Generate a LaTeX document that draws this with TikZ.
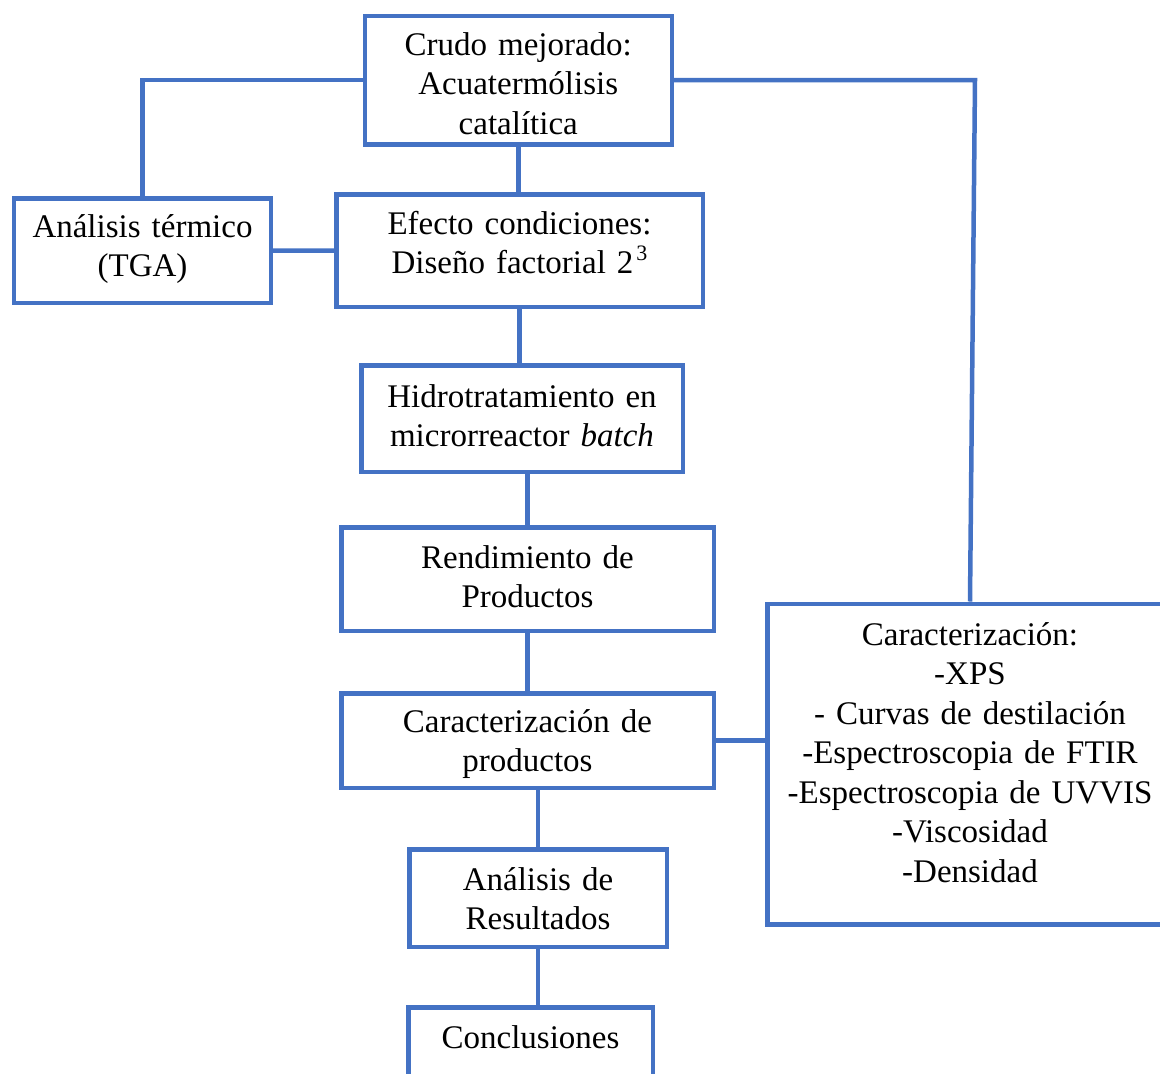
\documentclass[tikz,border=0pt]{standalone}
\usepackage{fontspec}
\setmainfont{Liberation Serif}
\definecolor{boxblue}{HTML}{4472C4}
\tikzset{
  box/.style={draw=boxblue, line width=4.5bp, inner sep=0pt, anchor=base,
    align=center, font=\fontsize{33bp}{39.5bp}\selectfont},
  link/.style={draw=boxblue, line width=4.5bp}
}
\begin{document}
\begin{tikzpicture}[x=1bp,y=-1bp]
\useasboundingbox (0,0) rectangle (1160,1074);
\clip (0,0) rectangle (1160,1074);
\node[box, text width=307bp, text height=39.25bp, text depth=89.25bp] (crudo) at (518.25,55)
  {Crudo mejorado:\\Acuatermólisis\\catalítica};
\node[box, text width=256.5bp, text height=38.75bp, text depth=65.75bp] (termico) at (142.5,237)
  {Análisis térmico\\(TGA)};
\node[box, text width=366.5bp, text height=39.75bp, text depth=72.75bp] (efecto) at (519.5,234)
  {Efecto condiciones:\\Diseño factorial 2\kern3bp\raisebox{0.38em}{\fontsize{22bp}{22bp}\selectfont 3}};
\node[box, text width=321.5bp, text height=41.75bp, text depth=64.75bp] (hidro) at (522,407)
  {Hidrotratamiento en\\microrreactor \textit{batch}};
\node[box, text width=372.5bp, text height=40.75bp, text depth=62.75bp] (rend) at (527.5,568)
  {Rendimiento de\\Productos};
\node[box, text width=372.5bp, text height=38.75bp, text depth=55.75bp] (cprod) at (527.5,732)
  {Caracterización de\\productos};
\node[box, text width=257.5bp, text height=40.75bp, text depth=56.75bp] (res) at (538,890)
  {Análisis de\\Resultados};
\node[box, text width=244.5bp, text height=40.75bp, text depth=99.75bp] (concl) at (530.5,1048)
  {Conclusiones};
\node[box, text width=405.5bp, text height=41.25bp, text depth=279.25bp] (caract) at (970,645)
  {Caracterización:\\-XPS\\- Curvas de destilación\\-Espectroscopia de FTIR\\-Espectroscopia de UVVIS\\-Viscosidad\\-Densidad};
\coordinate (rc) at (975,80);
\draw[link] (crudo.west) -| (termico.north);
\draw[link] (crudo.east) -- (rc) -- (caract.north);
\draw[link] (crudo.south) -- (crudo.south |- efecto.north);
\draw[link] (termico.east) -- (efecto.west);
\draw[link] (efecto.south) -- (efecto.south |- hidro.north);
\draw[link] (hidro.south -| rend.north) -- (rend.north);
\draw[link] (rend.south) -- (cprod.north);
\draw[link] (cprod.east) -- (cprod.east -| caract.west);
\draw[link] (res.north |- cprod.south) -- (res.north);
\draw[link] (res.south) -- (res.south |- concl.north);
\end{tikzpicture}
\end{document}
